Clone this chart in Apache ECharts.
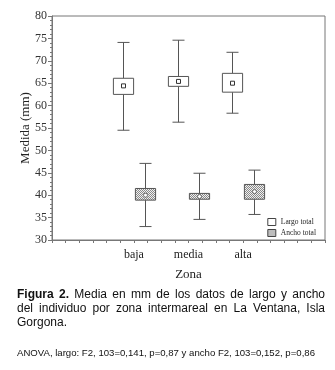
<!DOCTYPE html>
<html>
<head>
<meta charset="utf-8">
<script src="https://cdn.jsdelivr.net/npm/echarts@6/dist/echarts.min.js"></script>
<style>
  html, body { margin: 0; padding: 0; background: #fff; }
  #chart { position: absolute; left: 0; top: 0; width: 335px; height: 370px; }
  .cap { position: absolute; left: 17px; width: 308px; font-family: "Liberation Sans", Arial, sans-serif; color: #111; }
  .cap div { white-space: nowrap; }
  .j { text-align: justify; text-align-last: justify; white-space: normal !important; }
</style>
</head>
<body>
<div id="chart"></div>
<div class="cap" style="top:287px; font-size:12px; line-height:14px;">
  <div class="j"><b>Figura 2.</b> Media en mm de los datos de largo y ancho</div>
  <div class="j">del individuo por zona intermareal en La Ventana, Isla</div>
  <div>Gorgona.</div>
</div>
<div class="cap" style="top:346px; font-size:9.6px; line-height:13px; width:310px;">
  <div>ANOVA, largo: F2, 103=0,141, p=0,87 y ancho F2, 103=0,152, p=0,86</div>
</div>
<script>
// ---- data ----
var categories = ['baja', 'media', 'alta'];
var seriesNames = ['Largo total', 'Ancho total'];
var largoMin  = [54.5, 56.3, 58.3];
var largoQ1   = [62.5, 64.3, 63.0];
var largoMean = [64.4, 65.4, 65.0];
var largoQ3   = [66.1, 66.5, 67.2];
var largoMax  = [74.1, 74.6, 71.9];
var anchoMin  = [33.0, 34.6, 35.7];
var anchoQ1   = [38.9, 39.1, 39.1];
var anchoMean = [40.0, 39.7, 40.8];
var anchoQ3   = [41.5, 40.4, 42.4];
var anchoMax  = [47.1, 44.9, 45.6];
var yTicks = [30, 35, 40, 45, 50, 55, 60, 65, 70, 75, 80];

// hatched pattern for "Ancho total"
var pc = document.createElement('canvas');
pc.width = 2; pc.height = 2;
var pctx = pc.getContext('2d');
pctx.fillStyle = '#f0f0f0'; pctx.fillRect(0, 0, 2, 2);
pctx.fillStyle = '#8a8a8a'; pctx.fillRect(0, 0, 1, 1); pctx.fillRect(1, 1, 1, 1);
var hatch = { image: pc, repeat: 'repeat' };

var lineColor = '#555';

function buildData(mins, q1s, means, q3s, maxs) {
  return categories.map(function (c, i) {
    return [i + 1.5, mins[i], q1s[i], means[i], q3s[i], maxs[i]];
  });
}

function makeRender(offset, fill, markerShape) {
  return function (params, api) {
    var x = api.value(0) + offset;
    var pMin = api.coord([x, api.value(1)]);
    var pQ1 = api.coord([x, api.value(2)]);
    var pMean = api.coord([x, api.value(3)]);
    var pQ3 = api.coord([x, api.value(4)]);
    var pMax = api.coord([x, api.value(5)]);
    var bw = api.size([0.37, 0])[0];
    var cw = api.size([0.22, 0])[0];
    var cx = Math.round(pMin[0]) + 0.5;
    var ls = { stroke: lineColor, lineWidth: 1, fill: null };
    var children = [
      { type: 'line', shape: { x1: cx, y1: pMax[1], x2: cx, y2: pQ3[1] }, style: ls },
      { type: 'line', shape: { x1: cx, y1: pQ1[1], x2: cx, y2: pMin[1] }, style: ls },
      { type: 'line', shape: { x1: cx - cw / 2, y1: pMax[1], x2: cx + cw / 2, y2: pMax[1] }, style: ls },
      { type: 'line', shape: { x1: cx - cw / 2, y1: pMin[1], x2: cx + cw / 2, y2: pMin[1] }, style: ls },
      { type: 'rect', shape: { x: cx - bw / 2, y: pQ3[1], width: bw, height: pQ1[1] - pQ3[1] },
        style: { fill: fill, stroke: lineColor, lineWidth: 1 } }
    ];
    if (markerShape === 'square') {
      children.push({ type: 'rect', shape: { x: cx - 2, y: pMean[1] - 2, width: 4, height: 4 },
        style: { fill: '#fff', stroke: '#333', lineWidth: 1 } });
    } else {
      children.push({ type: 'circle', shape: { cx: cx, cy: pMean[1], r: 2 },
        style: { fill: '#fff', stroke: '#555', lineWidth: 0.8 } });
    }
    return { type: 'group', children: children };
  };
}

var chart = echarts.init(document.getElementById('chart'), null, { renderer: 'canvas' });
var serif = '"Liberation Serif", "Times New Roman", serif';
chart.setOption({
  animation: false,
  grid: { left: 52, right: 10, top: 16, bottom: 130, show: true, borderColor: '#777', borderWidth: 1 },
  legend: {
    orient: 'vertical', right: 14, top: 213, itemWidth: 8, itemHeight: 7, itemGap: 3,
    textStyle: { fontFamily: serif, fontSize: 7.5, color: '#222' },
    selectedMode: false,
    data: [
      { name: seriesNames[0], icon: 'rect', itemStyle: { color: '#fff', borderColor: '#444', borderWidth: 1 } },
      { name: seriesNames[1], icon: 'rect', itemStyle: { color: hatch, borderColor: '#444', borderWidth: 1 } }
    ]
  },
  xAxis: {
    type: 'value', min: 0, max: 5, interval: 0.25,
    name: 'Zona', nameLocation: 'middle', nameGap: 28,
    nameTextStyle: { fontFamily: serif, fontSize: 13, color: '#222' },
    axisLine: { show: true, lineStyle: { color: '#777' } },
    axisTick: { show: true, length: 3, lineStyle: { color: '#777' } },
    splitLine: { show: false },
    axisLabel: {
      margin: 9, fontFamily: serif, fontSize: 12, color: '#222', showMinLabel: true, showMaxLabel: true,
      formatter: function (v) {
        var i = v - 1.5;
        return (Math.abs(i - Math.round(i)) < 1e-6 && categories[Math.round(i)]) ? categories[Math.round(i)] : '';
      }
    }
  },
  yAxis: {
    type: 'value', min: yTicks[0], max: yTicks[yTicks.length - 1], interval: yTicks[1] - yTicks[0],
    name: 'Medida (mm)', nameLocation: 'middle', nameGap: 20, nameMoveOverlap: false,
    nameTextStyle: { fontFamily: serif, fontSize: 13, color: '#222' },
    axisLine: { show: true, lineStyle: { color: '#777' } },
    axisTick: { show: true, length: 4, lineStyle: { color: '#777' } },
    minorTick: { show: true, splitNumber: 5, length: 2, lineStyle: { color: '#777' } },
    splitLine: { show: false },
    axisLabel: { margin: 5, fontFamily: serif, fontSize: 12, color: '#333' }
  },
  series: [
    {
      name: seriesNames[0], type: 'custom', renderItem: makeRender(-0.2, '#fff', 'square'),
      itemStyle: { color: '#fff', borderColor: '#444' },
      encode: { x: 0, y: [1, 2, 3, 4, 5] },
      data: buildData(largoMin, largoQ1, largoMean, largoQ3, largoMax)
    },
    {
      name: seriesNames[1], type: 'custom', renderItem: makeRender(0.2, hatch, 'circle'),
      itemStyle: { color: hatch, borderColor: '#444' },
      encode: { x: 0, y: [1, 2, 3, 4, 5] },
      data: buildData(anchoMin, anchoQ1, anchoMean, anchoQ3, anchoMax)
    }
  ]
});
</script>
</body>
</html>
